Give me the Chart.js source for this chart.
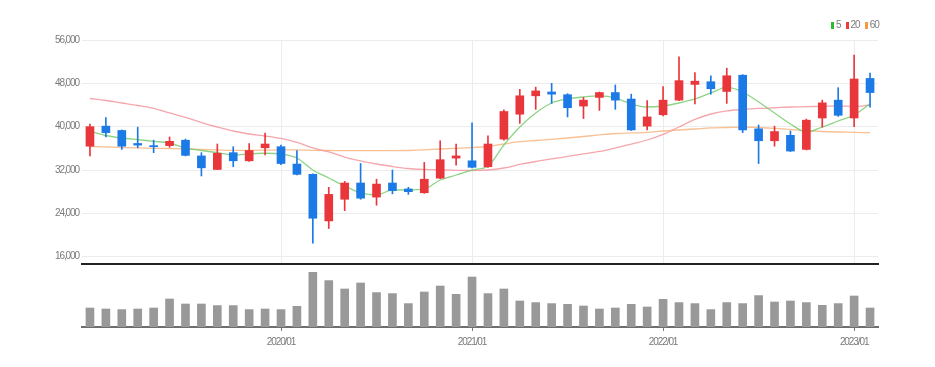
<!DOCTYPE html>
<html><head><meta charset="utf-8">
<script src="https://cdn.jsdelivr.net/npm/chart.js@4.4.0/dist/chart.umd.min.js"></script>
<style>
html,body{margin:0;padding:0;background:#fff;width:935px;height:367px;overflow:hidden;}
#wrap{position:relative;width:935px;height:367px;}
#c1{position:absolute;left:0;top:0;}
#c2{position:absolute;left:0;top:262px;}
#legend{position:absolute;top:19px;left:831px;font:10px 'Liberation Sans',Arial,sans-serif;letter-spacing:-1px;color:#7a7a7a;white-space:nowrap;}
#legend span.b{display:inline-block;width:3px;height:7px;margin-right:2px;vertical-align:-1px;}
#legend span.t{margin-right:5px;}
</style></head>
<body><div id="wrap">
<canvas id="c1" width="935" height="273"></canvas>
<canvas id="c2" width="935" height="105"></canvas>
<div id="legend"><span class="b" style="background:#2fba2f"></span><span class="t">5</span><span class="b" style="background:#ef3b3b"></span><span class="t">20</span><span class="b" style="background:#f89a3c"></span><span>60</span></div>
</div>
<script>
const months = ['2019/01','2019/02','2019/03','2019/04','2019/05','2019/06','2019/07','2019/08','2019/09','2019/10','2019/11','2019/12',
'2020/01','2020/02','2020/03','2020/04','2020/05','2020/06','2020/07','2020/08','2020/09','2020/10','2020/11','2020/12',
'2021/01','2021/02','2021/03','2021/04','2021/05','2021/06','2021/07','2021/08','2021/09','2021/10','2021/11','2021/12',
'2022/01','2022/02','2022/03','2022/04','2022/05','2022/06','2022/07','2022/08','2022/09','2022/10','2022/11','2022/12',
'2023/01','2023/02'];
const xTickLabels = ['2020/01','2021/01','2022/01','2023/01'];
const yTicks = [16000,24000,32000,40000,48000,56000];

const open  = [36400,40100,39300,36900,36500,36500,37500,34600,32100,35200,33700,36100,36300,33100,31200,22600,26600,29600,27000,29600,28500,27800,30500,34200,33700,32600,37700,42300,45700,46400,45900,43800,45400,46300,45100,40100,42200,44900,47800,48300,46500,49500,39600,37400,38400,35800,41600,44900,41600,48900];
const high  = [40500,41700,39400,39900,37500,38100,37700,35200,36800,36300,36900,38800,36600,35600,31300,28800,29900,33200,30300,32000,28800,33400,37400,36800,40700,38300,43100,46900,47300,48000,46100,45400,46400,47700,46000,44800,47400,52900,50000,49400,50800,49600,40300,40100,39200,41400,44900,47200,53200,49900];
const low   = [34600,38100,35800,36100,35200,36200,34600,30900,32100,32600,33600,34800,33000,31100,18500,21200,24500,26600,25500,27600,27500,27700,30400,32900,32400,32500,37500,40600,43200,44300,41800,41500,43000,43200,39300,39400,42000,44800,44200,46000,44300,38900,33200,36400,35400,35700,39900,41900,40000,43600];
const close = [40000,38900,36400,36600,36300,37300,34700,32400,35100,33700,35600,36800,33200,31200,23100,27500,29600,26800,29400,28200,28000,30300,33900,34600,32500,36800,42800,45700,46600,46000,43500,44900,46300,44900,39400,41800,44900,48500,48400,47000,49400,39400,37400,39100,35500,41200,44400,42100,48800,46300];
const volume = [1900,1800,1740,1800,1900,2800,2300,2300,2140,2140,1740,1800,1740,2070,5470,4640,3800,4400,3440,3340,2340,3500,4100,3270,5000,3340,3800,2600,2440,2340,2270,2100,1800,1900,2270,2000,2770,2440,2340,1740,2440,2340,3140,2500,2600,2440,2170,2340,3100,1900];
const ma5  = [39200,38370,37910,37600,37300,36990,36070,35600,35200,34770,34960,35090,34960,34220,32000,30530,29050,27760,27390,28310,28310,28500,30160,31080,32000,32740,36620,39940,42530,44370,45110,45480,45670,45300,44190,43630,43820,44370,45110,46220,47240,46400,44560,42530,40500,39020,39940,41050,42160,44190];
const ma20 = [45200,44830,44370,43910,43360,42530,41700,40770,39940,39200,38650,38280,37820,37080,36070,35330,34400,33670,33110,32650,32280,32100,32000,31950,31910,32000,32370,33020,33570,34040,34500,34960,35420,36070,36800,37540,38560,39940,41330,42340,42900,43170,43360,43490,43630,43690,43760,43820,43730,44000];
const ma60 = [36340,36250,36160,36070,36010,35970,35880,35790,35700,35640,35640,35660,35700,35700,35640,35600,35570,35570,35570,35570,35600,35700,35880,36010,36160,36340,36800,37230,37450,37670,37910,38190,38470,38740,38840,38930,39200,39390,39570,39760,39850,39940,39850,39700,39480,39260,39110,39020,38960,38890];

const UP = '#e8363b', DOWN = '#1b7ae6';
const candleColors = close.map((c,i)=> c >= open[i] ? UP : DOWN);
const bodies = open.map((o,i)=>[o, close[i]]);
const wicks = low.map((l,i)=>[l, high[i]]);
const FONT = "'Liberation Sans',Arial,sans-serif";
const isLabeled = i => xTickLabels.includes(months[i]);
const narrowText = {id:'narrowText', beforeDraw(chart){ chart.ctx.letterSpacing = '-1.1px'; }};

new Chart(document.getElementById('c1'), {
  type: 'bar',
  data: {
    labels: months,
    datasets: [
      {label:'body', data: bodies, backgroundColor: candleColors, barThickness: 8, grouped: false, minBarLength: 1, order: 0},
      {label:'wick', data: wicks, backgroundColor: candleColors, barThickness: 1, grouped: false, order: 1},
      {type:'line', label:'5', data: ma5, borderColor:'rgba(120,205,110,0.85)', borderWidth:1.3, pointRadius:0, cubicInterpolationMode:'monotone', order: 2},
      {type:'line', label:'20', data: ma20, borderColor:'rgba(243,150,158,0.85)', borderWidth:1.3, pointRadius:0, cubicInterpolationMode:'monotone', order: 3},
      {type:'line', label:'60', data: ma60, borderColor:'rgba(248,185,135,0.9)', borderWidth:1.3, pointRadius:0, cubicInterpolationMode:'monotone', order: 4}
    ]
  },
  plugins: [narrowText],
  options: {
    responsive: false, animation: false, devicePixelRatio: 1,
    layout: {padding: {top: 40, right: 57, left: 0, bottom: 2}},
    plugins: {legend: {display: false}, tooltip: {enabled: false}},
    scales: {
      x: {
        offset: true,
        afterFit: s => { s.height = 0; },
        grid: {offset: false, drawTicks: false, lineWidth: 1, color: ctx => (ctx.index !== undefined && isLabeled(ctx.index)) ? '#ececec' : 'rgba(0,0,0,0)'},
        ticks: {display: false, autoSkip: false},
        border: {color: '#222', width: 2}
      },
      y: {
        min: 14650, max: 56000,
        afterBuildTicks: s => { s.ticks = yTicks.map(v => ({value: v})); },
        afterFit: s => { s.width = 82; },
        grid: {color: '#ececec', drawTicks: false},
        border: {display: false},
        ticks: {padding: 3, color: '#7a7a7a', font: {family: FONT, size: 10}, callback: v => v.toLocaleString('en-US')}
      }
    }
  }
});

new Chart(document.getElementById('c2'), {
  type: 'bar',
  data: {
    labels: months,
    datasets: [{label:'volume', data: volume, backgroundColor: '#999999', barThickness: 8}]
  },
  plugins: [narrowText],
  options: {
    responsive: false, animation: false, devicePixelRatio: 1,
    layout: {padding: {top: 2, right: 57, left: 82, bottom: 0}},
    plugins: {legend: {display: false}, tooltip: {enabled: false}},
    scales: {
      x: {
        offset: true,
        afterFit: s => { s.height = 40; },
        grid: {offset: false, drawOnChartArea: false, tickLength: 4, color: ctx => (ctx.index !== undefined && isLabeled(ctx.index)) ? '#777' : 'rgba(0,0,0,0)'},
        border: {color: '#6e6e6e', width: 2},
        ticks: {autoSkip: false, maxRotation: 0, padding: 5, color: '#7a7a7a', font: {family: FONT, size: 10},
          callback: (v, i) => isLabeled(i) ? months[i] : ''}
      },
      y: {display: false, min: 0, max: 6300}
    }
  }
});
</script>
</body></html>
